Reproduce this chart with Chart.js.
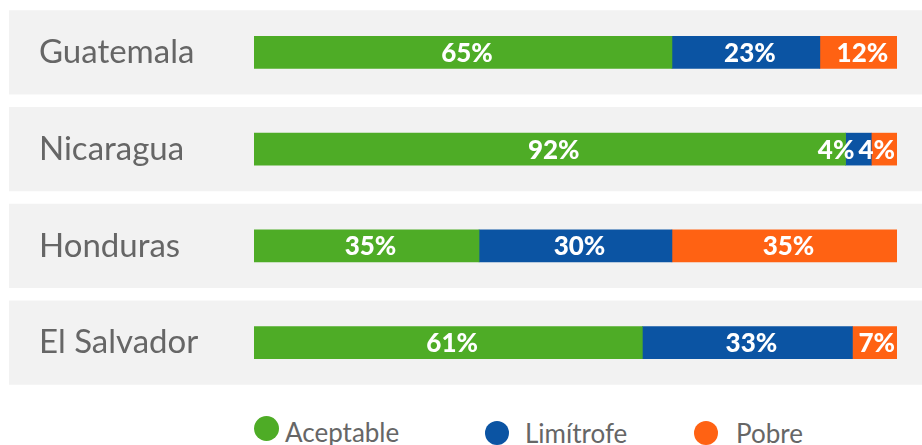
<!DOCTYPE html>
<html>
<head>
<meta charset="utf-8">
<script src="https://cdn.jsdelivr.net/npm/chart.js@4/dist/chart.umd.min.js"></script>
<style>
    html, body { margin: 0; padding: 0; background: #ffffff; }
    #wrap { position: relative; width: 922px; height: 445px; }
    #box { position: absolute; left: 0; top: 0; width: 922px; height: 400px; }
    #leyenda { position: absolute; left: 0; top: 400px; width: 922px; height: 45px; font-family: Lato, sans-serif; font-size: 26px; color: #666666; }
    #leyenda .item { position: absolute; display: flex; align-items: center; white-space: nowrap; }
    #leyenda .dot { width: 24px; height: 24px; border-radius: 50%; display: inline-block; }
    #leyenda .item:nth-child(1) { left: 254px; top: 12px; }
    #leyenda .item:nth-child(1) .dot { width: 25px; height: 25px; margin-right: 6px; }
    #leyenda .item:nth-child(1) span.txt { position: relative; top: 4px; }
    #leyenda .item:nth-child(2) { left: 485px; top: 17px; }
    #leyenda .item:nth-child(2) .dot { margin-right: 16px; }
    #leyenda .item:nth-child(3) { left: 694px; top: 17px; }
    #leyenda .item:nth-child(3) .dot { margin-right: 18px; }
</style>
</head>
<body>
<div id="wrap">
    <div id="box"><canvas id="chart_paises"></canvas></div>
    <div id="leyenda"></div>
</div>
<script>
// datos
const paises = ['Guatemala', 'Nicaragua', 'Honduras', 'El Salvador'];
const aceptable = [65, 92, 35, 61];
const limitrofe = [23, 4, 30, 33];
const pobre = [12, 4, 35, 7];
const series = ['Aceptable', 'Limítrofe', 'Pobre'];
const colores = ['#4EAC26', '#0B54A3', '#FF6213'];

const crudos = [aceptable, limitrofe, pobre];
const totales = paises.map((p, i) => aceptable[i] + limitrofe[i] + pobre[i]);

// franjas grises detras de cada pais (antes de ejes y barras)
const fondoFilas = {
    id: 'fondoFilas',
    beforeDraw(chart) {
        const ctx = chart.ctx;
        const y = chart.scales.y;
        const paso = y.getPixelForValue(1) - y.getPixelForValue(0);
        const alto = paso * 0.87;
        ctx.save();
        ctx.fillStyle = '#F2F2F2';
        paises.forEach((p, i) => {
            const cy = y.getPixelForValue(i);
            ctx.fillRect(9, cy - alto / 2, chart.width - 9, alto);
        });
        ctx.restore();
    }
};

// etiquetas de porcentaje dentro de las barras
const etiquetas = {
    id: 'etiquetas',
    afterDatasetsDraw(chart) {
        const ctx = chart.ctx;
        const limite = chart.chartArea.right - 2;
        ctx.save();
        ctx.font = '900 26px Lato, sans-serif';
        ctx.fillStyle = '#ffffff';
        ctx.textAlign = 'center';
        ctx.textBaseline = 'middle';
        paises.forEach((p, i) => {
            // centro de cada tramo, luego evitar que se encimen
            const cajas = chart.data.datasets.map((ds, d) => {
                const bar = chart.getDatasetMeta(d).data[i];
                const txt = crudos[d][i] + '%';
                const w = ctx.measureText(txt).width;
                return { txt, w, cx: (bar.x + bar.base) / 2 + 4, y: bar.y };
            });
            let tope = limite;
            for (let k = cajas.length - 1; k >= 0; k--) {
                const c = cajas[k];
                if (c.cx + c.w / 2 > tope) c.cx = tope - c.w / 2;
                tope = c.cx - c.w / 2 - 4;
            }
            cajas.forEach(c => ctx.fillText(c.txt, c.cx, c.y + 1));
        });
        ctx.restore();
    }
};

const ctx = document.getElementById('chart_paises').getContext('2d');
const chartPaises = new Chart(ctx, {
    type: 'bar',
    data: {
        labels: paises,
        datasets: series.map((s, d) => ({
            label: s,
            data: crudos[d].map((v, i) => v / totales[i] * 100),
            backgroundColor: colores[d],
            borderWidth: 0,
            barThickness: 32
        }))
    },
    options: {
        indexAxis: 'y',
        responsive: true,
        maintainAspectRatio: false,
        animation: false,
        layout: { padding: { left: 39, right: 25, top: 4, bottom: 9 } },
        plugins: {
            legend: { display: false },
            tooltip: { enabled: false }
        },
        scales: {
            x: { stacked: true, min: 0, max: 100, display: false },
            y: {
                stacked: true,
                grid: { display: false },
                border: { display: false },
                ticks: {
                    crossAlign: 'far',
                    padding: 0,
                    color: '#666666',
                    font: { family: 'Lato, sans-serif', size: 33, lineHeight: 0.2 }
                },
                afterFit(scale) { scale.width = 215; }
            }
        }
    },
    plugins: [fondoFilas, etiquetas]
});

// leyenda html
let html = '';
chartPaises.data.datasets.forEach(ds => {
    html += `<div class="item"><span class="dot" style="background:${ds.backgroundColor}"></span><span class="txt">${ds.label}</span></div>`;
});
document.getElementById('leyenda').innerHTML = html;
</script>
</body>
</html>
